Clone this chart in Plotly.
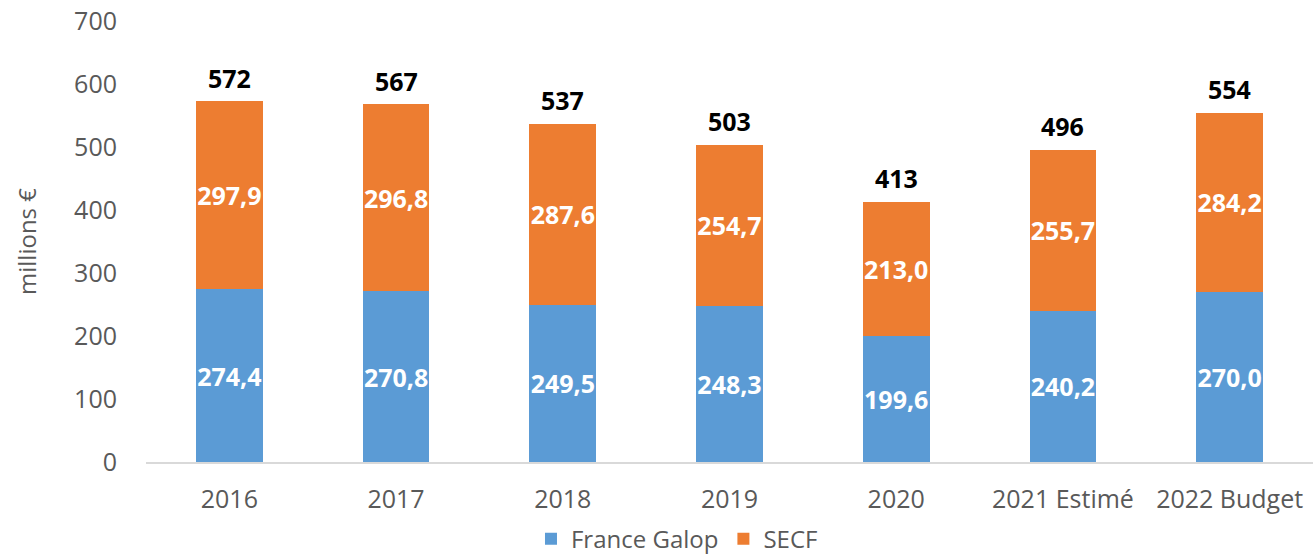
import plotly.graph_objects as go

categories = ["2016", "2017", "2018", "2019", "2020", "2021 Estimé", "2022 Budget"]
france_galop = [274.4, 270.8, 249.5, 248.3, 199.6, 240.2, 270.0]
secf = [297.9, 296.8, 287.6, 254.7, 213.0, 255.7, 284.2]
totals = [572, 567, 537, 503, 413, 496, 554]

def fr(v):
    return f"{v:.1f}".replace(".", ",")

FONT = "Open Sans, Noto Sans, sans-serif"
GRAY = "#595959"
fig = go.Figure()
fig.add_trace(go.Bar(
    x=categories, y=france_galop, name="France Galop",
    marker=dict(color="#5B9BD5", line=dict(width=0)),
    text=[fr(v) for v in france_galop], textposition="inside",
    insidetextanchor="middle", constraintext="none", textangle=0,
    textfont=dict(color="white", size=25, family=FONT, weight="bold"),
    hoverinfo="skip",
))
fig.add_trace(go.Bar(
    x=categories, y=secf, name="SECF",
    marker=dict(color="#ED7D31", line=dict(width=0)),
    text=[fr(v) for v in secf], textposition="inside",
    insidetextanchor="middle", constraintext="none", textangle=0,
    textfont=dict(color="white", size=25, family=FONT, weight="bold"),
    hoverinfo="skip",
))
for i, t in enumerate(totals):
    fig.add_annotation(x=i, y=t, xref="x", yref="y", text=str(t), showarrow=False,
                       yanchor="bottom", yshift=5,
                       font=dict(color="black", size=25, family=FONT, weight="bold"))

fig.update_layout(
    barmode="stack", bargap=0.6,
    width=1313, height=558,
    margin=dict(l=146, r=0, t=21, b=96, autoexpand=False),
    plot_bgcolor="white", paper_bgcolor="white",
    font=dict(family=FONT, color=GRAY, size=24),
    legend=dict(orientation="h", x=0.455, xanchor="center", y=-0.175, yanchor="middle",
                font=dict(size=24, color=GRAY), traceorder="normal", itemwidth=30),
    showlegend=True,
)
fig.update_xaxes(type="category", range=[-0.5, len(categories) - 0.5],
                 showline=True, linecolor="#D9D9D9", linewidth=1.5,
                 ticks="outside", ticklen=14, tickcolor="rgba(0,0,0,0)",
                 showgrid=False, tickfont=dict(size=25, color=GRAY))
fig.update_yaxes(range=[0, 700], dtick=100, showgrid=False, zeroline=False,
                 showline=False, ticks="", ticklabelstandoff=28, ticklabeloverflow="allow",
                 tickfont=dict(size=25, color=GRAY),
                 title=dict(text="millions €", font=dict(size=24, color=GRAY), standoff=30))

fig.write_html("out.html", config={"displayModeBar": False},
               post_script="document.body.style.margin='0';document.body.style.overflow='hidden';")
